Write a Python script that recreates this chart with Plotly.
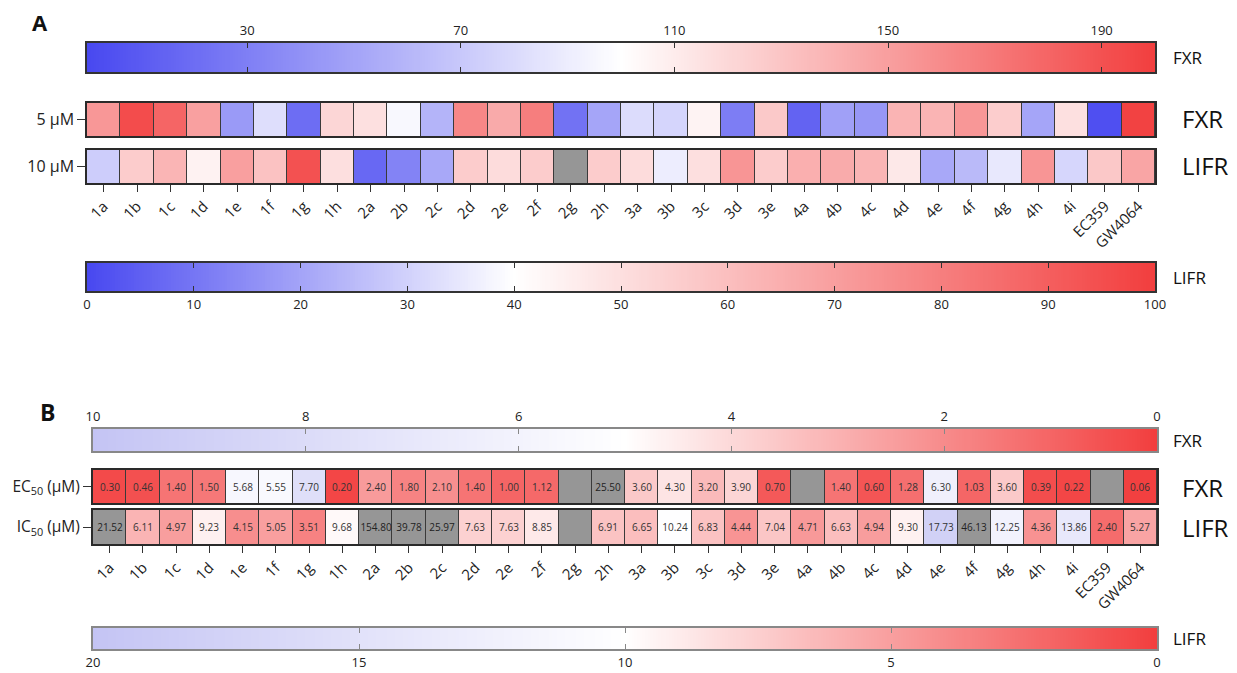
import numpy as np
import plotly.graph_objects as go

W, H = 1237, 673
OX, OY = 8, 8  # page offset of the figure inside the browser page
FONT = "Open Sans"

categories = ["1a", "1b", "1c", "1d", "1e", "1f", "1g", "1h",
              "2a", "2b", "2c", "2d", "2e", "2f", "2g", "2h",
              "3a", "3b", "3c", "3d", "3e",
              "4a", "4b", "4c", "4d", "4e", "4f", "4g", "4h", "4i",
              "EC359", "GW4064"]

# Panel A: transactivation (% of control)
fxr_5uM = [154, 193, 180, 149, 45, 82, 20, 121,
           116, 96, 59, 162, 144, 167, 23, 51,
           81, 77, 106, 29, 128,
           15, 48, 43, 139, 139, 154, 126, 51, 116,
           4, 198]
lifr_10uM = [29, 56, 63, 44, 70, 59, 94, 50,
             7, 13, 21, 56, 51, 56, None, 56,
             51, 36, 50, 73, 56,
             65, 66, 63, 47, 21, 25, 35, 73, 31,
             57, 68]

# Panel B: EC50 / IC50 (uM); None = not determined
ec50_fxr = [0.30, 0.46, 1.40, 1.50, 5.68, 5.55, 7.70, 0.20,
            2.40, 1.80, 2.10, 1.40, 1.00, 1.12, None, 25.50,
            3.60, 4.30, 3.20, 3.90, 0.70,
            None, 1.40, 0.60, 1.28, 6.30, 1.03, 3.60, 0.39, 0.22,
            None, 0.06]
ic50_lifr = [21.52, 6.11, 4.97, 9.23, 4.15, 5.05, 3.51, 9.68,
             154.80, 39.78, 25.97, 7.63, 7.63, 8.85, None, 6.91,
             6.65, 10.24, 6.83, 4.44, 7.04,
             4.71, 6.63, 4.94, 9.30, 17.73, 46.13, 12.25, 4.36, 13.86,
             2.40, 5.27]

# colour-bar ranges and ticks
cbA_fxr_range = [0, 200]
cbA_fxr_ticks = [30, 70, 110, 150, 190]
cbA_lifr_range = [0, 100]
cbA_lifr_ticks = [0, 10, 20, 30, 40, 50, 60, 70, 80, 90, 100]
cbB_fxr_range = [10, 0]
cbB_fxr_ticks = [10, 8, 6, 4, 2, 0]
cbB_lifr_range = [20, 0]
cbB_lifr_ticks = [20, 15, 10, 5, 0]

BLUE = "rgb(72,72,240)"
RED = "rgb(242,62,62)"
LAV = "rgb(196,196,244)"
GRAY = "rgb(150,150,150)"
scale_A_fxr = [[0, BLUE], [0.5, "white"], [1, RED]]
scale_A_lifr = [[0, BLUE], [0.4, "white"], [1, RED]]
scale_B = [[0, RED], [0.5, "white"], [1, LAV]]


def xd(a, b):
    return [(a - OX) / W, (b - OX) / W]


def yd(top, bottom):
    return [1 - (bottom - OY) / H, 1 - (top - OY) / H]


fig = go.Figure()


def arr(v):
    return np.array([np.nan if x is None else x for x in v], dtype=float)


# ---------- colour bars as gradient heatmaps ----------
def add_cbar(idx, rng, scale, zmin, zmax):
    lo, hi = min(rng), max(rng)
    xs = np.linspace(lo, hi, 401)
    fig.add_trace(go.Heatmap(x=xs, y=[0], z=[xs], colorscale=scale, zmin=zmin, zmax=zmax,
                             showscale=False, hoverinfo="skip",
                             xaxis=f"x{idx}", yaxis=f"y{idx}"))


add_cbar(1, cbA_fxr_range, scale_A_fxr, 0, 200)
add_cbar(4, cbA_lifr_range, scale_A_lifr, 0, 100)
add_cbar(5, cbB_fxr_range, scale_B, 0, 10)
add_cbar(8, cbB_lifr_range, scale_B, 0, 20)


# ---------- heatmap rows ----------
def add_row(idx, vals, label, scale, zmin, zmax, limit=None, show_text=False):
    v = arr(vals)
    gray_mask = np.isnan(v) | ((v > limit) if limit is not None else False)
    zc = np.where(gray_mask, np.nan, v)
    zg = np.where(gray_mask, 1.0, np.nan)
    txt_c = [f"{x:.2f}" if (show_text and not g) else "" for x, g in zip(v, gray_mask)]
    txt_g = [f"{x:.2f}" if (show_text and g and not np.isnan(x)) else "" for x, g in zip(v, gray_mask)]
    fig.add_trace(go.Heatmap(x=categories, y=[label], z=[zg.tolist()],
                             colorscale=[[0, GRAY], [1, GRAY]], zmin=0, zmax=1,
                             showscale=False, xgap=1, ygap=0, hoverinfo="skip",
                             text=[txt_g], texttemplate="%{text}",
                             textfont=dict(size=10, color="#222", family=FONT),
                             xaxis=f"x{idx}", yaxis=f"y{idx}"))
    fig.add_trace(go.Heatmap(x=categories, y=[label], z=[zc.tolist()],
                             colorscale=scale, zmin=zmin, zmax=zmax,
                             showscale=False, xgap=1, ygap=0,
                             text=[txt_c], texttemplate="%{text}",
                             textfont=dict(size=10, color="#333", family=FONT),
                             xaxis=f"x{idx}", yaxis=f"y{idx}"))


add_row(2, fxr_5uM, "5 µM", scale_A_fxr, 0, 200)
add_row(3, lifr_10uM, "10 µM", scale_A_lifr, 0, 100)
add_row(6, ec50_fxr, "EC<sub>50</sub> (µM)", scale_B, 0, 10, limit=10, show_text=True)
add_row(7, ic50_lifr, "IC<sub>50</sub> (µM)", scale_B, 0, 20, limit=20, show_text=True)

# ---------- axes ----------
geo = {
    1: (87, 1155, 43, 72),
    2: (87, 1155, 103, 136),
    3: (87, 1155, 150, 183),
    4: (87, 1155, 263, 291),
    5: (93, 1157, 429, 451),
    6: (93, 1157, 470, 503),
    7: (93, 1157, 510, 544),
    8: (93, 1157, 628, 649),
}
layout = {}
tick_font = dict(family=FONT, size=13, color="#222")
for i, (x0, x1, y0, y1) in geo.items():
    layout[f"xaxis{i}"] = dict(domain=xd(x0, x1), anchor=f"y{i}", showgrid=False, zeroline=False,
                               fixedrange=True, automargin=False)
    layout[f"yaxis{i}"] = dict(domain=yd(y0, y1), anchor=f"x{i}", showgrid=False, zeroline=False,
                               fixedrange=True, automargin=False)

# colour bar axes
for i, rng, ticks, side, lc in [(1, cbA_fxr_range, cbA_fxr_ticks, "top", "#333"),
                                (4, cbA_lifr_range, cbA_lifr_ticks, "bottom", "#333"),
                                (5, cbB_fxr_range, cbB_fxr_ticks, "top", "#888"),
                                (8, cbB_lifr_range, cbB_lifr_ticks, "bottom", "#888")]:
    layout[f"xaxis{i}"].update(range=rng, tickvals=ticks, side=side, ticks="inside", ticklen=5,
                               tickcolor=lc, tickwidth=1.2, showline=True, linecolor=lc,
                               linewidth=1.5, mirror="ticks", tickfont=tick_font, ticklabelstandoff=1)
    layout[f"yaxis{i}"].update(range=[-0.5, 0.5], showticklabels=False, ticks="",
                               showline=True, linecolor=lc, linewidth=1.5, mirror=True)

# heatmap row axes
for i, show_x, lw in [(2, False, 1.5), (3, True, 1.5), (6, False, 2), (7, True, 2)]:
    layout[f"xaxis{i}"].update(type="category", range=[-0.5, 31.5], showline=True,
                               linecolor="#2a2a2a", linewidth=lw, mirror=True,
                               showticklabels=show_x, ticks="outside" if show_x else "",
                               ticklen=7, tickwidth=1.3, tickcolor="#333", tickangle=-45,
                               tickfont=dict(family=FONT, size=15, color="#222"))
    layout[f"yaxis{i}"].update(type="category", range=[-0.5, 0.5], showline=True,
                               linecolor="#2a2a2a", linewidth=lw, mirror=True,
                               ticks="outside", ticklen=8, tickwidth=1.3, tickcolor="#333",
                               tickfont=dict(family=FONT, size=15.5 if i >= 6 else 16, color="#222"))

annotations = []


def ann(text, x, y, size, bold=False, xanchor="left"):
    annotations.append(dict(text=f"<b>{text}</b>" if bold else text,
                            x=(x - OX) / W, y=1 - (y - OY) / H,
                            xref="paper", yref="paper", xanchor=xanchor, yanchor="middle",
                            showarrow=False, font=dict(family=FONT, size=size, color="#111")))


ann("A", 40, 22, 22, bold=True, xanchor="center")
ann("B", 47, 412, 23, bold=True, xanchor="center")
ann("FXR", 1171, 58, 17)
ann("FXR", 1180, 119, 24)
ann("LIFR", 1180, 165, 24)
ann("LIFR", 1171, 277, 17)
ann("FXR", 1171, 440, 17)
ann("FXR", 1180, 487, 24)
ann("LIFR", 1180, 527, 24)
ann("LIFR", 1171, 638, 17)

fig.update_layout(width=W, height=H, margin=dict(l=0, r=0, t=0, b=0, autoexpand=False),
                  paper_bgcolor="white", plot_bgcolor="#3a3a3a",
                  font=dict(family=FONT), annotations=annotations, **layout)

fig.write_html("out.html")
